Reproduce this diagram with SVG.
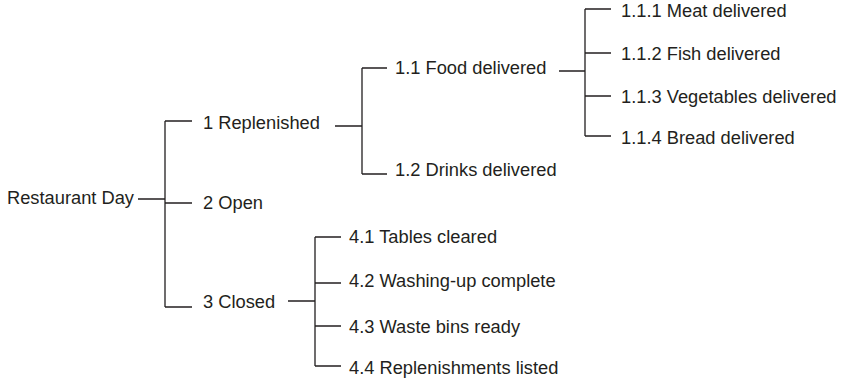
<svg xmlns="http://www.w3.org/2000/svg" width="844" height="383" viewBox="0 0 844 383">
<style>
text{font-family:"Liberation Sans",Arial,Helvetica,sans-serif;font-size:18.3px;fill:#231f20}
#connectors path{fill:none;stroke:#231f20;stroke-width:1.3}
</style>
<rect width="844" height="383" fill="#fff"/>
<g id="connectors">
<path d="M138,199H165M165,121V307M165,121H192M165,203H192M165,307H192"/>
<path d="M335,126H362M362,68V174M362,68H387M362,174H387"/>
<path d="M559,71H585M585,9V136M585,9H611M585,53H611M585,96H611M585,136H611"/>
<path d="M288,301H315M315,237V366M315,237H341M315,283H341M315,326H341M315,366H341"/>
</g>
<g id="n0"><text x="7" y="204">Restaurant Day</text></g>
<g id="n1"><text x="203" y="129">1 Replenished</text></g>
<g id="n2"><text x="203" y="209">2 Open</text></g>
<g id="n3"><text x="203" y="308">3 Closed</text></g>
<g id="n11"><text x="395" y="74">1.1 Food delivered</text></g>
<g id="n12"><text x="395" y="176">1.2 Drinks delivered</text></g>
<g id="n111"><text x="621" y="17">1.1.1 Meat delivered</text></g>
<g id="n112"><text x="621" y="60">1.1.2 Fish delivered</text></g>
<g id="n113"><text x="621" y="103">1.1.3 Vegetables delivered</text></g>
<g id="n114"><text x="621" y="144">1.1.4 Bread delivered</text></g>
<g id="n41"><text x="349" y="243">4.1 Tables cleared</text></g>
<g id="n42"><text x="349" y="287">4.2 Washing-up complete</text></g>
<g id="n43"><text x="349" y="333">4.3 Waste bins ready</text></g>
<g id="n44"><text x="349" y="374">4.4 Replenishments listed</text></g>
</svg>
